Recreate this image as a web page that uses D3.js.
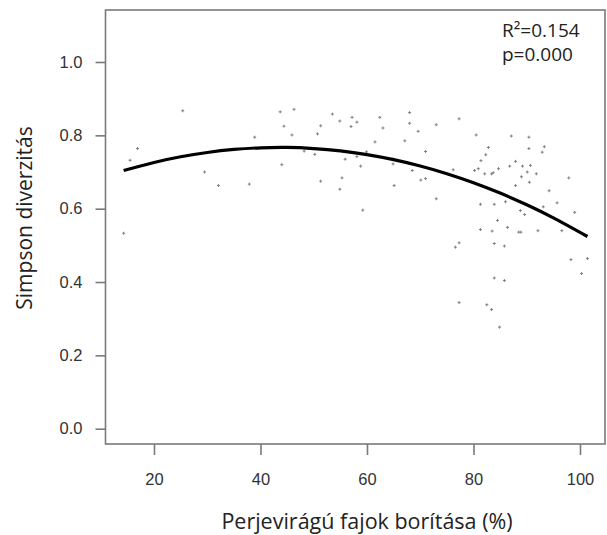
<!DOCTYPE html>
<html>
<head>
<meta charset="utf-8">
<script src="https://cdn.jsdelivr.net/npm/d3@7"></script>
<style>
  html, body { margin: 0; padding: 0; background: #fff; }
  svg { display: block; }
</style>
</head>
<body>
<svg id="chart" width="607" height="535"></svg>
<script>
// ---- Data ----
const coverX = [25.4, 43.7, 46.3, 44.4, 45.9, 44.0, 38.9, 37.9, 32.1, 29.5,
  16.9, 15.5, 14.3, 53.5, 51.3, 50.7, 50.2, 51.3, 54.9, 57.2,
  57.0, 58.1, 55.9, 58.1, 58.8, 55.3, 54.9, 59.2, 59.9, 62.4,
  63.0, 61.5, 64.9, 64.9, 65.1, 68.0, 68.0, 69.6, 67.1, 68.5,
  70.1, 71.0, 71.0, 73.0, 73.0, 77.3, 76.2, 76.6, 77.3, 77.3,
  80.5, 80.2, 80.9, 81.4, 82.3, 82.8, 82.1, 83.4, 83.7, 84.7,
  81.3, 83.9, 81.3, 83.5, 84.5, 83.9, 85.8, 86.4, 86.0, 83.9,
  85.8, 82.5, 83.4, 84.9, 87.1, 86.8, 87.9, 87.9, 88.5, 88.9,
  88.8, 89.6, 89.2, 89.0, 90.4, 90.4, 90.7, 90.1, 90.5, 91.8,
  93.3, 92.9, 94.2, 93.1, 92.1, 95.7, 96.6, 97.9, 99.0, 98.3,
  101.4, 100.3, 48.2];
const simpsonY = [0.867, 0.864, 0.871, 0.825, 0.801, 0.720, 0.795, 0.667, 0.663, 0.700,
  0.764, 0.732, 0.533, 0.858, 0.826, 0.804, 0.748, 0.675, 0.839, 0.849,
  0.824, 0.836, 0.735, 0.742, 0.716, 0.684, 0.653, 0.596, 0.755, 0.849,
  0.820, 0.782, 0.735, 0.722, 0.663, 0.862, 0.833, 0.811, 0.785, 0.704,
  0.678, 0.682, 0.756, 0.829, 0.627, 0.845, 0.706, 0.495, 0.507, 0.344,
  0.801, 0.704, 0.709, 0.731, 0.747, 0.767, 0.695, 0.695, 0.698, 0.709,
  0.612, 0.612, 0.543, 0.539, 0.568, 0.505, 0.498, 0.549, 0.619, 0.411,
  0.404, 0.338, 0.325, 0.277, 0.798, 0.716, 0.729, 0.663, 0.536, 0.536,
  0.595, 0.584, 0.716, 0.687, 0.795, 0.764, 0.718, 0.700, 0.672, 0.695,
  0.769, 0.754, 0.649, 0.605, 0.540, 0.616, 0.540, 0.684, 0.590, 0.461,
  0.464, 0.423, 0.757];

// fitted quadratic curve
const curveX = [14.3, 20, 25, 30, 35, 40, 45, 50, 55, 60, 65, 70, 75, 80, 85, 90, 95, 101.4];
const curveY = [0.704, 0.726, 0.7415, 0.7533, 0.7615, 0.766, 0.767, 0.764, 0.7577, 0.7476,
  0.7339, 0.7165, 0.6955, 0.6708, 0.6425, 0.6106, 0.575, 0.5241];

const xTicks = [20, 40, 60, 80, 100];
const yTicks = [0.0, 0.2, 0.4, 0.6, 0.8, 1.0];
const xLabel = "Perjevirágú fajok borítása (%)";
const yLabel = "Simpson diverzitás";
const statLines = ["R²=0.154", "p=0.000"];

// ---- Layout ----
const box = { left: 105.5, right: 605, top: 10, bottom: 444 };
const svg = d3.select("#chart");

const x = d3.scaleLinear().domain([20, 100]).range([154, 580]);
const y = d3.scaleLinear().domain([0, 1]).range([428.7, 62]);

const axisColor = "#7a7a7a";
const textColor = "#333";
const tickFont = "'Liberation Sans', Arial, sans-serif";
const titleFont = "'Open Sans', 'Noto Sans', sans-serif";

// frame
svg.append("rect")
  .attr("x", box.left).attr("y", box.top)
  .attr("width", box.right - box.left).attr("height", box.bottom - box.top)
  .attr("fill", "none").attr("stroke", axisColor).attr("stroke-width", 1.6);

// y axis
const yAxis = d3.axisLeft(y).tickValues(yTicks).tickFormat(d3.format(".1f"))
  .tickSize(10).tickPadding(6);
const gy = svg.append("g").attr("transform", `translate(${box.left},0)`).call(yAxis);
gy.select(".domain").remove();
gy.selectAll(".tick line").attr("stroke", axisColor).attr("stroke-width", 1.6);
gy.selectAll(".tick text")
  .attr("fill", textColor)
  .style("font-family", tickFont)
  .style("font-size", "16.5px")
  .attr("x", -23);

// x axis
const xAxis = d3.axisBottom(x).tickValues(xTicks).tickFormat(d3.format("d"))
  .tickSize(11).tickPadding(10);
const gx = svg.append("g").attr("transform", `translate(0,${box.bottom})`).call(xAxis);
gx.select(".domain").remove();
gx.selectAll(".tick line").attr("stroke", axisColor).attr("stroke-width", 1.6);
gx.selectAll(".tick text")
  .attr("fill", textColor)
  .style("font-family", tickFont)
  .style("font-size", "16.5px")
  .attr("y", 29);

// axis titles
svg.append("text")
  .attr("x", 367).attr("y", 529)
  .attr("text-anchor", "middle")
  .attr("fill", "#222")
  .style("font-family", titleFont)
  .style("font-size", "21.5px")
  .text(xLabel);

svg.append("text")
  .attr("transform", "translate(32,218) rotate(-90)")
  .attr("text-anchor", "middle")
  .attr("fill", "#222")
  .style("font-family", titleFont)
  .style("font-size", "21px")
  .text(yLabel);

// points (small plus marks)
const pts = coverX.map((v, i) => ({ x: v, y: simpsonY[i] }));
svg.append("g").selectAll("path")
  .data(pts).enter().append("path")
  .attr("transform", d => `translate(${x(d.x)},${y(d.y)})`)
  .attr("d", "M-1.5,0H1.5M0,-1.5V1.5")
  .attr("stroke", "#808080")
  .attr("stroke-width", 1)
  .attr("fill", "none");

// fitted curve
const curve = curveX.map((v, i) => ({ x: v, y: curveY[i] }));
svg.append("path")
  .datum(curve)
  .attr("d", d3.line().x(d => x(d.x)).y(d => y(d.y)).curve(d3.curveCatmullRom))
  .attr("fill", "none")
  .attr("stroke", "#000")
  .attr("stroke-width", 3.2);

// stats annotation
const ann = svg.append("text")
  .attr("fill", "#222")
  .style("font-family", titleFont)
  .style("font-size", "19px");
ann.selectAll("tspan").data(statLines).enter().append("tspan")
  .attr("x", 502)
  .attr("y", (d, i) => 37 + i * 24)
  .text(d => d);
</script>
</body>
</html>
